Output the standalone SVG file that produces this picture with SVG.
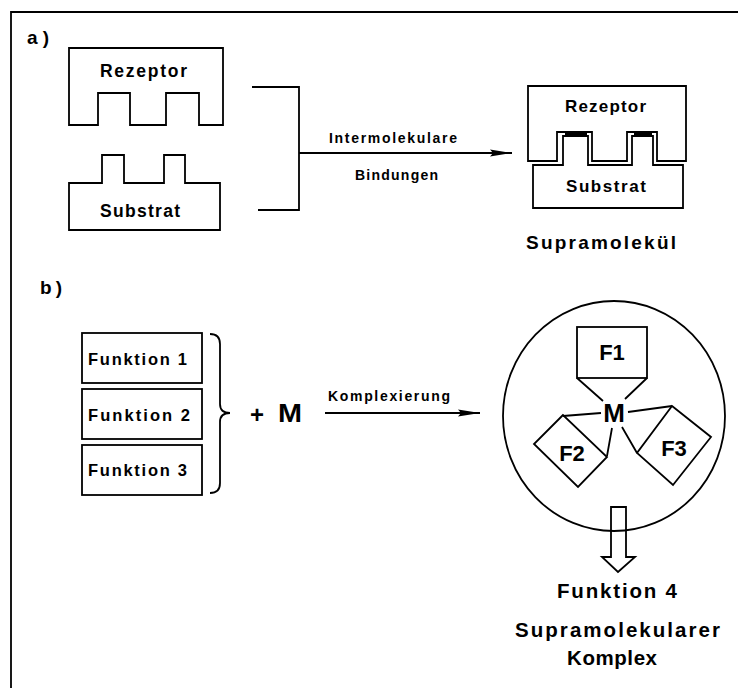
<svg xmlns="http://www.w3.org/2000/svg" width="738" height="688" viewBox="0 0 738 688">
<style>
  .ln{fill:none;stroke:#000;stroke-width:1.8;stroke-linejoin:miter}
  .sh{fill:#fff;stroke:#000;stroke-width:1.8;stroke-linejoin:miter}
  .t{font-family:"Liberation Sans",Arial,Helvetica,sans-serif;font-weight:bold;fill:#000}
  .c{text-anchor:middle}
</style>
<defs>
  <marker id="ah" markerUnits="userSpaceOnUse" markerWidth="24" markerHeight="10" refX="22" refY="5" orient="auto">
    <path d="M0,1.5 L22,5 L0,8.5 L3,5 Z" fill="#000"/>
  </marker>
</defs>
<rect width="738" height="688" fill="#fff"/>
<g id="frame">
  <path class="ln" d="M11,688 V12 H738" stroke-width="2.2"/>
</g>
<text class="t" x="27" y="44" font-size="19" textLength="22" lengthAdjust="spacing">a)</text>
<text class="t" x="40" y="294" font-size="19" textLength="22" lengthAdjust="spacing">b)</text>

<g id="rezeptor-a">
  <path class="sh" d="M69,48 H223 V125 H199 V93 H166 V125 H130 V93 H98 V125 H69 Z"/>
  <text class="t" x="100" y="77" font-size="17.5" textLength="87" lengthAdjust="spacing">Rezeptor</text>
</g>
<g id="substrat-a">
  <path class="sh" d="M69,230 V183 H102 V155 H124 V183 H164 V155 H185 V183 H220 V230 Z"/>
  <text class="t" x="100" y="217" font-size="17.5" textLength="80" lengthAdjust="spacing">Substrat</text>
</g>

<g id="supramolekuel">
  <path class="sh" d="M528,86 H686 V161 H657 V132 H627 V161 H592 V132 H557 V161 H528 Z"/>
  <path class="sh" d="M533,208 V165 H563 V136 H588 V165 H632 V136 H653 V165 H683 V208 Z"/>
  <rect x="565" y="132" width="22" height="4" fill="#000"/>
  <rect x="634" y="132" width="18" height="4" fill="#000"/>
  <text class="t" x="565" y="112" font-size="17" textLength="81" lengthAdjust="spacing">Rezeptor</text>
  <text class="t" x="566" y="192" font-size="17" textLength="80" lengthAdjust="spacing">Substrat</text>
  <text class="t" x="526" y="249" font-size="19" textLength="150" lengthAdjust="spacing">Supramolekül</text>
</g>

<g id="funktion1">
  <rect class="sh" x="82" y="333" width="120" height="50"/>
  <text class="t" x="88" y="365" font-size="16.5" textLength="99" lengthAdjust="spacing">Funktion 1</text>
</g>
<g id="funktion2">
  <rect class="sh" x="82" y="389" width="120" height="50"/>
  <text class="t" x="88" y="421" font-size="16.5" textLength="102" lengthAdjust="spacing">Funktion 2</text>
</g>
<g id="funktion3">
  <rect class="sh" x="82" y="445" width="120" height="50"/>
  <text class="t" x="88" y="476" font-size="16.5" textLength="99" lengthAdjust="spacing">Funktion 3</text>
</g>
<g id="brace">
  <path class="ln" d="M210,334 Q220,334 220,344 V404 Q220,413 230,413 Q220,413 220,422 V483 Q220,493 210,493"/>
</g>
<g id="metal">
  <text class="t c" x="257" y="423" font-size="24">+</text>
  <text class="t" x="278" y="422" font-size="26" textLength="24" lengthAdjust="spacingAndGlyphs">M</text>
</g>

<g id="complex">
  <ellipse class="ln" cx="614" cy="416" rx="111" ry="115" stroke-width="1.6"/>
  <rect class="sh" x="577" y="327" width="70" height="51"/>
  <text class="t c" x="612" y="360" font-size="22">F1</text>
  <path class="ln" d="M577,378 L603,401 M647,378 L625,399"/>
  <path class="sh" d="M563,415 L534,444 L578,487 L607,457 Z"/>
  <text class="t c" x="572" y="461" font-size="22">F2</text>
  <path class="sh" d="M672,406 L711,437 L673,485 L637,453 Z"/>
  <text class="t c" x="674" y="456" font-size="22">F3</text>
  <path class="ln" d="M601,413 L563,416 M612,428 L607,456 M628,412 L672,406 M622,427 L637,453"/>
  <text class="t c" x="614" y="422" font-size="26">M</text>
</g>

<g id="funktion4">
  <path class="ln" d="M611,507 H626 V557 H635 L618,572 L602,557 H611 Z"/>
  <text class="t" x="557" y="598" font-size="20.5" textLength="120" lengthAdjust="spacing">Funktion 4</text>
  <text class="t" x="515" y="637" font-size="20.5" textLength="205" lengthAdjust="spacing">Supramolekularer</text>
  <text class="t" x="567" y="665" font-size="20.5" textLength="90" lengthAdjust="spacing">Komplex</text>
</g>

<g id="connectors">
  <path class="ln" d="M252,87 H299 V210 H258"/>
  <path class="ln" d="M299,153 H512" marker-end="url(#ah)"/>
  <text class="t" x="329" y="143" font-size="14" textLength="128" lengthAdjust="spacing">Intermolekulare</text>
  <text class="t" x="355" y="180" font-size="14" textLength="83" lengthAdjust="spacing">Bindungen</text>
  <path class="ln" d="M325,413 H480" marker-end="url(#ah)"/>
  <text class="t" x="328" y="401" font-size="14" textLength="122" lengthAdjust="spacing">Komplexierung</text>
</g>
</svg>
